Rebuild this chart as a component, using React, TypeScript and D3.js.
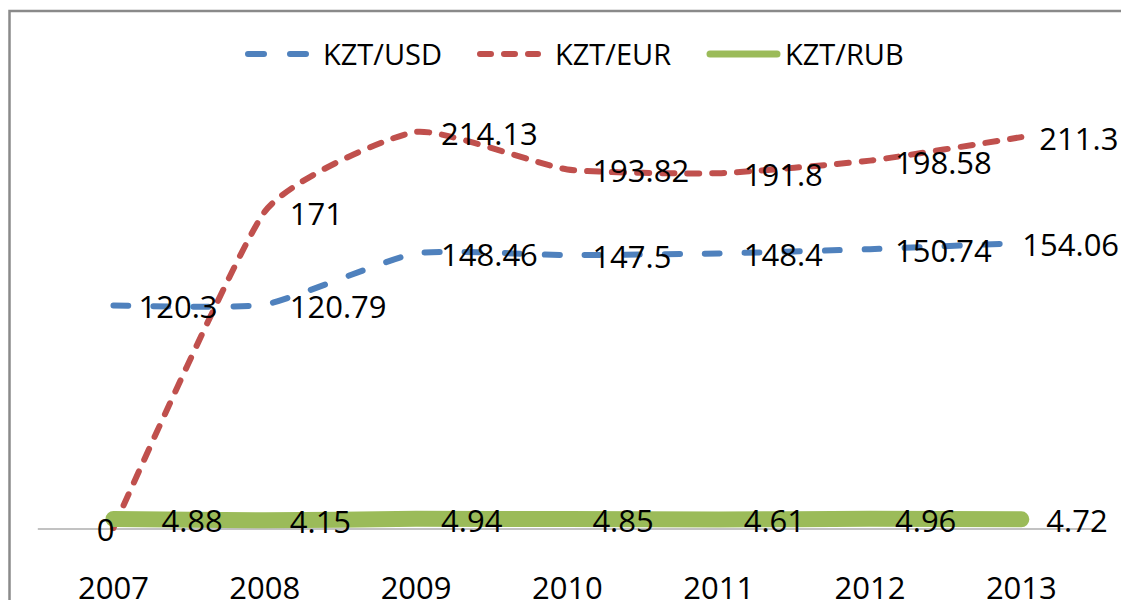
import { useEffect, useRef } from "react";
import * as d3 from "d3";

const years = ["2007", "2008", "2009", "2010", "2011", "2012", "2013"];
const usd = [120.3, 120.79, 148.46, 147.5, 148.4, 150.74, 154.06];
const eur = [0, 171, 214.13, 193.82, 191.8, 198.58, 211.3];
const rub = [4.88, 4.15, 4.94, 4.85, 4.61, 4.96, 4.72];

const seriesNames = ["KZT/USD", "KZT/EUR", "KZT/RUB"];

export default function App() {
  const svgRef = useRef(null);

  useEffect(() => {
    if (!svgRef.current) return;

    const width = 1121;
    const height = 600;
    const font = "'Open Sans', sans-serif";

    const svg = d3.select(svgRef.current);
    svg.selectAll("*").remove();
    svg.attr("width", width).attr("height", height).attr("viewBox", `0 0 ${width} ${height}`);

    svg.append("rect").attr("width", width).attr("height", height).attr("fill", "white");

    // chart frame (only left and top edges show)
    svg
      .append("path")
      .attr("d", "M9.5,600 V11 H1121")
      .attr("fill", "none")
      .attr("stroke", "#8a8a8a")
      .attr("stroke-width", 2.5);

    const x = d3.scalePoint().domain(years).range([37.8, 1097]).padding(0.5);
    const y = d3.scaleLinear().domain([0, 250]).range([528, 65.5]);

    // category axis
    svg
      .append("line")
      .attr("x1", 37.8)
      .attr("x2", 1097)
      .attr("y1", y(0) + 1)
      .attr("y2", y(0) + 1)
      .attr("stroke", "#868686")
      .attr("stroke-width", 1.2);

    svg
      .selectAll(".year")
      .data(years)
      .enter()
      .append("text")
      .attr("x", (d) => x(d)!)
      .attr("y", 599)
      .attr("text-anchor", "middle")
      .attr("font-family", font)
      .attr("font-size", "31px")
      .attr("fill", "#000")
      .text((d) => d);

    const series = [
      { name: seriesNames[0], values: usd, color: "#4F81BD", width: 6, dash: "15 25" },
      { name: seriesNames[1], values: eur, color: "#C0504D", width: 6, dash: "12 13" },
      { name: seriesNames[2], values: rub, color: "#9BBB59", width: 16, dash: null },
    ];

    const line = d3
      .line<number>()
      .x((_, i) => x(years[i])!)
      .y((d) => y(d))
      .curve(d3.curveCardinal.tension(0.5));

    series.forEach((s) => {
      const p = svg
        .append("path")
        .attr("d", line(s.values))
        .attr("fill", "none")
        .attr("stroke", s.color)
        .attr("stroke-width", s.width)
        .attr("stroke-linecap", "round")
        .attr("stroke-linejoin", "round");
      if (s.dash) p.attr("stroke-dasharray", s.dash);
    });

    // a few labels were nudged by hand in the original
    const labelShift = {
      "KZT/EUR-0": { dx: 1, anchor: "end" },
      "KZT/RUB-0": { dx: 48, anchor: "start" },
      "KZT/USD-6": { dx: 1, anchor: "start" },
      "KZT/EUR-6": { dx: 18, anchor: "start" },
    };

    series.forEach((s) => {
      s.values.forEach((v, i) => {
        const shift = labelShift[`${s.name}-${i}`] || { dx: 25, anchor: "start" };
        svg
          .append("text")
          .attr("x", x(years[i])! + shift.dx)
          .attr("y", y(v) + 13)
          .attr("text-anchor", shift.anchor)
          .attr("font-family", font)
          .attr("font-size", "31px")
          .attr("fill", "#000")
          .text(v);
      });
    });

    // legend
    const legendItems = [
      { x0: 245, x1: 310, tx: 323 },
      { x0: 477, x1: 541, tx: 555 },
      { x0: 707, x1: 780, tx: 785 },
    ];
    series.forEach((s, i) => {
      const it = legendItems[i];
      const l = svg
        .append("line")
        .attr("x1", it.x0 + 3)
        .attr("x2", it.x1 - 3)
        .attr("y1", 54)
        .attr("y2", 54)
        .attr("stroke", s.color)
        .attr("stroke-width", i === 2 ? 7 : 6)
        .attr("stroke-linecap", "round");
      if (i === 0) l.attr("stroke-dasharray", "16 26");
      if (i === 1) l.attr("stroke-dasharray", "11 13");

      svg
        .append("text")
        .attr("x", it.tx)
        .attr("y", 65)
        .attr("font-family", font)
        .attr("font-size", "29px")
        .attr("fill", "#000")
        .text(s.name);
    });
  }, []);

  return <svg ref={svgRef} style={{ position: "absolute", left: 0, top: 0, display: "block" }} />;
}
